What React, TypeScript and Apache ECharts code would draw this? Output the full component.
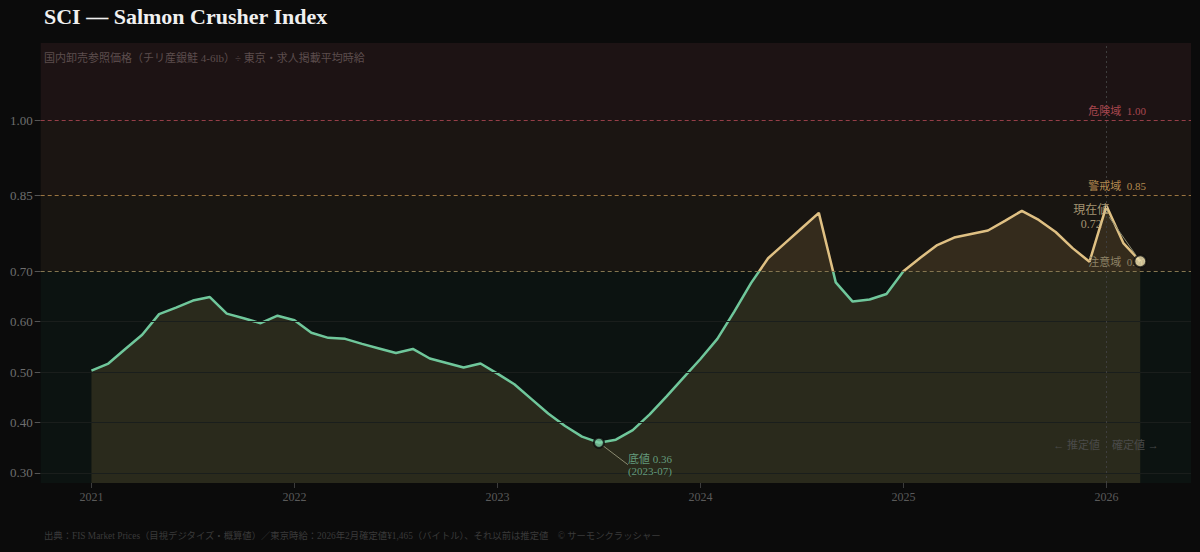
import React, { useEffect, useRef } from "react";
import * as echarts from "echarts";

const FONT = "'Liberation Serif', 'Noto Sans CJK JP', serif";

const months = [
  "2021-01", "2021-02", "2021-03", "2021-04", "2021-05", "2021-06", "2021-07", "2021-08", "2021-09", "2021-10", "2021-11", "2021-12",
  "2022-01", "2022-02", "2022-03", "2022-04", "2022-05", "2022-06", "2022-07", "2022-08", "2022-09", "2022-10", "2022-11", "2022-12",
  "2023-01", "2023-02", "2023-03", "2023-04", "2023-05", "2023-06", "2023-07", "2023-08", "2023-09", "2023-10", "2023-11", "2023-12",
  "2024-01", "2024-02", "2024-03", "2024-04", "2024-05", "2024-06", "2024-07", "2024-08", "2024-09", "2024-10", "2024-11", "2024-12",
  "2025-01", "2025-02", "2025-03", "2025-04", "2025-05", "2025-06", "2025-07", "2025-08", "2025-09", "2025-10", "2025-11", "2025-12",
  "2026-01", "2026-02", "2026-03",
];

const sciValues = [
  0.503, 0.517, 0.546, 0.574, 0.615, 0.628, 0.642, 0.649, 0.616, 0.607, 0.597, 0.612,
  0.603, 0.578, 0.568, 0.566, 0.556, 0.547, 0.538, 0.546, 0.527, 0.518, 0.509, 0.517,
  0.497, 0.476, 0.447, 0.418, 0.393, 0.372, 0.36, 0.366, 0.385, 0.416, 0.452, 0.489,
  0.526, 0.566, 0.62, 0.677, 0.726, 0.756, 0.786, 0.816, 0.678, 0.64, 0.644, 0.655,
  0.7, 0.727, 0.752, 0.767, 0.774, 0.781, 0.8, 0.82, 0.802, 0.778, 0.746, 0.719,
  0.83, 0.756, 0.72,
];

const xTicks = [2021, 2022, 2023, 2024, 2025, 2026];
const yTicks = [0.3, 0.4, 0.5, 0.6, 0.7, 0.85, 1.0];
const faintGrid = [0.3, 0.4, 0.5, 0.6];

const thresholdNames = ["危険域", "警戒域", "注意域"];
const thresholdValues = [1.0, 0.85, 0.7];
const thresholdLineColors = ["#963e48", "#9a7440", "#857650"];
const thresholdLabelColors = ["#a8474f", "#b38a50", "#8d8266"];

const bandEdges = [1.153, 1.0, 0.85, 0.7, 0.28];
const bandColors = ["#1d1314", "#1b1512", "#181511", "#0c1311"];

const bottomMonth = "2023-07";
const bottomValue = 0.36;
const currentMonth = "2026-03";
const currentValue = 0.72;
const confirmedFrom = "2026-01";
const colorSplit = 0.7;

const TITLE = "SCI — Salmon Crusher Index";
const SUBTITLE = "国内卸売参照価格（チリ産銀鮭 4-6lb）÷ 東京・求人掲載平均時給";
const FOOTER =
  "出典：FIS Market Prices（目視デジタイズ・概算値）／東京時給：2026年2月確定値¥1,465（バイトル）、それ以前は推定値　© サーモンクラッシャー";
const LEGEND_LEFT = "← 推定値";
const LEGEND_RIGHT = "確定値 →";

const GREEN = "#6fc79b";
const GOLD = "#dfc083";

const X_MIN = 2020.75;
const X_MAX = 2026.4167;
const Y_MIN = 0.28;
const Y_MAX = 1.153;

function toX(s: string): number {
  const [y, m] = s.split("-").map(Number);
  return y + (m - 1) / 12;
}

function near(v: number, list: number[]): number | null {
  for (const t of list) if (Math.abs(v - t) < 1e-6) return t;
  return null;
}

function buildOption(useVisualMap: boolean, useCustom: boolean): any {
  const points = months.map((m, i) => [toX(m), sciValues[i]]);

  const bandData = bandColors.map((c, i) => [
    { coord: [X_MIN, bandEdges[i + 1]], itemStyle: { color: c } },
    { coord: [X_MAX, bandEdges[i]] },
  ]);

  const hLine = (v: number, lineStyle: any, label: any) => [
    { coord: [X_MIN, v], lineStyle, label },
    { coord: [X_MAX, v] },
  ];

  const thresholdData = thresholdValues.map((v, i) =>
    hLine(
      v,
      { color: thresholdLineColors[i], type: [4, 3], width: 1 },
      {
        show: true,
        position: "insideEndTop",
        formatter: thresholdNames[i] + "  " + v.toFixed(2),
        color: thresholdLabelColors[i],
        fontSize: 11,
        fontFamily: FONT,
        offset: [-40, 1],
      }
    )
  );

  const gridData = faintGrid.map((v) =>
    hLine(v, { color: "#1a1e1c", type: "solid", width: 1 }, { show: false })
  );

  const vx = toX(confirmedFrom);
  const vLine = [
    { coord: [vx, Y_MIN], lineStyle: { color: "#3e3e3e", type: [2, 3], width: 1 }, label: { show: false } },
    { coord: [vx, Y_MAX] },
  ];

  const maxV = Math.max(...sciValues);
  const minV = Math.min(...sciValues);
  const t = (maxV - colorSplit) / (maxV - minV);
  const gradient = new echarts.graphic.LinearGradient(0, 0, 0, 1, [
    { offset: 0, color: GOLD },
    { offset: t, color: GOLD },
    { offset: t, color: GREEN },
    { offset: 1, color: GREEN },
  ]);

  const xAxis: any = {
    type: "value",
    min: X_MIN,
    max: X_MAX,
    axisLine: { show: false },
    splitLine: { show: false },
  };
  const yAxis: any = {
    type: "value",
    min: Y_MIN,
    max: Y_MAX,
    axisLine: { show: false },
    splitLine: { show: false },
  };
  if (useCustom) {
    xAxis.axisTick = { show: true, customValues: xTicks, length: 5, lineStyle: { color: "#3c3c3c" } };
    xAxis.axisLabel = {
      customValues: xTicks,
      formatter: (v: number) => String(Math.round(v)),
      color: "#5a5a5a",
      fontSize: 12,
      margin: 8,
      fontFamily: FONT,
    };
    yAxis.axisTick = { show: true, customValues: yTicks, length: 6, lineStyle: { color: "#555" } };
    yAxis.axisLabel = {
      customValues: yTicks,
      formatter: (v: number) => v.toFixed(2),
      color: "#6e6e6e",
      fontSize: 13,
      margin: 8,
      fontFamily: FONT,
    };
  } else {
    xAxis.interval = 1 / 12;
    xAxis.axisTick = { show: false };
    xAxis.axisLabel = {
      formatter: (v: number) => {
        const n = near(v, xTicks);
        return n == null ? "" : String(n);
      },
      color: "#5a5a5a",
      fontSize: 12,
      margin: 8,
      fontFamily: FONT,
    };
    yAxis.interval = 0.01;
    yAxis.axisTick = { show: false };
    yAxis.axisLabel = {
      formatter: (v: number) => {
        const n = near(v, yTicks);
        return n == null ? "" : n.toFixed(2);
      },
      color: "#6e6e6e",
      fontSize: 13,
      margin: 8,
      fontFamily: FONT,
    };
  }

  const option: any = {
    animation: false,
    backgroundColor: "#0b0b0b",
    textStyle: { fontFamily: FONT },
    title: [
      {
        text: TITLE,
        left: 44,
        top: 5,
        padding: 0,
        textStyle: { color: "#f0f0f0", fontSize: 22, fontWeight: "bold", fontFamily: FONT },
      },
      {
        text: SUBTITLE,
        left: 44,
        top: 52,
        padding: 0,
        textStyle: { color: "#5c4d4d", fontSize: 11, fontWeight: "normal", fontFamily: FONT },
      },
      {
        text: FOOTER,
        left: 44,
        top: 531,
        padding: 0,
        textStyle: { color: "#3a3a3a", fontSize: 9.35, fontWeight: "normal", fontFamily: FONT },
      },
    ],
    grid: { left: 40.7, right: 9, top: 43, bottom: 69 },
    xAxis,
    yAxis,
    series: [
      {
        type: "line",
        data: points,
        z: 1,
        silent: true,
        showSymbol: false,
        lineStyle: { opacity: 0 },
        markArea: { silent: true, data: bandData },
        markLine: {
          silent: true,
          symbol: ["none", "none"],
          data: [...gridData, ...thresholdData, vLine],
        },
      },
      {
        type: "line",
        data: points,
        z: 3,
        showSymbol: false,
        smooth: false,
        lineStyle: useVisualMap ? { width: 2.5 } : { width: 2.5, color: gradient },
        itemStyle: useVisualMap ? undefined : { color: GREEN },
        areaStyle: { color: "rgba(222,178,98,0.21)", origin: "start" },
      },
      {
        type: "scatter",
        z: 5,
        data: [
          {
            value: [toX(bottomMonth), bottomValue],
            symbolSize: 10,
            itemStyle: { color: "#7fd1a7", borderColor: "#0b0b0b", borderWidth: 2 },
            label: {
              show: true,
              position: "inside",
              align: "left",
              verticalAlign: "top",
              formatter: "底値 " + bottomValue.toFixed(2) + "\n(" + bottomMonth + ")",
              color: "#74b995",
              fontSize: 11,
              lineHeight: 12,
              fontFamily: FONT,
            },
          },
          {
            value: [toX(currentMonth), currentValue],
            symbolSize: 12,
            itemStyle: { color: "#f3e3b2", borderColor: "#0b0b0b", borderWidth: 2 },
            label: {
              show: true,
              position: "inside",
              align: "center",
              verticalAlign: "top",
              formatter: "現在値\n" + currentValue.toFixed(2),
              color: "#c9b68c",
              fontSize: 12,
              lineHeight: 14,
              fontFamily: FONT,
            },
          },
        ],
        labelLine: { show: true, lineStyle: { color: "#8a8a70", width: 1 } },
        labelLayout: (p: any) => (p.dataIndex === 0 ? { dx: 29, dy: 10 } : { dx: -49, dy: -58 }),
      },
    ],
    graphic: [
      {
        type: "text",
        x: 1100,
        y: 445,
        z: 100,
        silent: true,
        style: {
          text: LEGEND_LEFT,
          textAlign: "right",
          textVerticalAlign: "middle",
          fill: "#4a4a4a",
          fontSize: 11,
          fontFamily: FONT,
        },
      },
      {
        type: "text",
        x: 1112,
        y: 445,
        z: 100,
        silent: true,
        style: {
          text: LEGEND_RIGHT,
          textAlign: "left",
          textVerticalAlign: "middle",
          fill: "#4a4a4a",
          fontSize: 11,
          fontFamily: FONT,
        },
      },
    ],
  };
  if (useVisualMap) {
    option.visualMap = {
      type: "piecewise",
      show: false,
      seriesIndex: 1,
      dimension: 1,
      pieces: [
        { gte: 0, lt: colorSplit, color: GREEN },
        { gte: colorSplit, lte: 5, color: GOLD },
      ],
    };
  }
  return option;
}

export default function App() {
  const ref = useRef<HTMLDivElement>(null);

  useEffect(() => {
    document.body.style.margin = "0";
    document.body.style.background = "#0b0b0b";
    const variants: [boolean, boolean][] = [
      [true, true],
      [false, true],
      [true, false],
      [false, false],
    ];
    let chart: any = null;
    for (const [vm, cu] of variants) {
      try {
        chart = echarts.init(ref.current!, null, { renderer: "svg" });
        chart.setOption(buildOption(vm, cu));
        break;
      } catch (e) {
        try {
          chart.dispose();
        } catch (_) {}
        chart = null;
      }
    }
    return () => {
      if (chart) chart.dispose();
    };
  }, []);

  return <div ref={ref} style={{ width: 1200, height: 552 }} />;
}
